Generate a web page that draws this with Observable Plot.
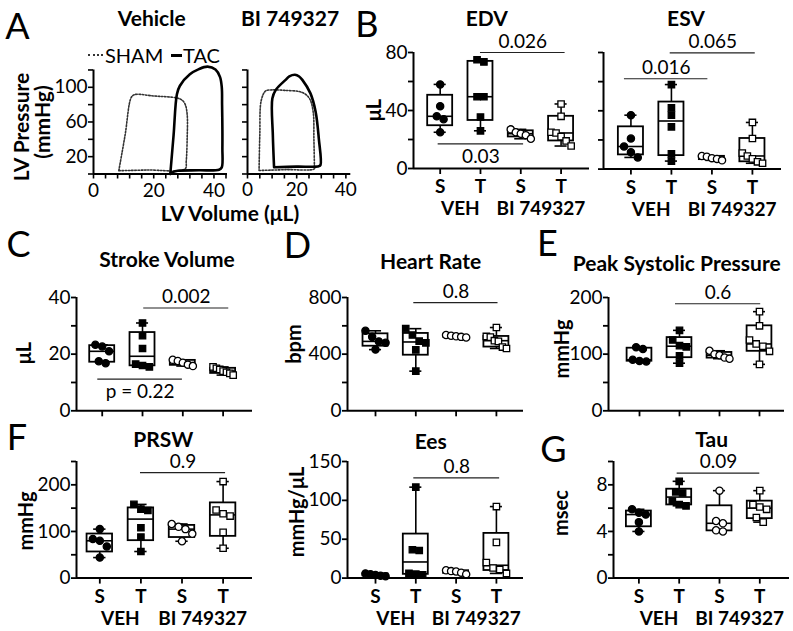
<!DOCTYPE html>
<html><head><meta charset="utf-8">
<script src="https://cdn.jsdelivr.net/npm/d3@7"></script>
<script src="https://cdn.jsdelivr.net/npm/@observablehq/plot@0.6"></script>
<style>
body{margin:0;background:#fff;}
#chart{position:relative;width:793px;height:631px;background:#fff;overflow:hidden;font-family:Lato,"Noto Sans",sans-serif;color:#000;}
.t{position:absolute;transform:translate(-50%,-50%);white-space:nowrap;line-height:1;}
.b{font-weight:700;font-size:21px;}
.ti{font-weight:700;font-size:21px;}
.yl{font-weight:700;font-size:20px;}
.r{font-weight:400;font-size:20px;}
.letter{font-weight:400;font-size:36px;}
svg.p{position:absolute;overflow:visible;max-width:none;}
</style></head><body><div id="chart"></div>
<script>
// ---------- data ----------
const groups = ["S", "T", "S", "T"];
const treatments = ["VEH", "BI 749327"];

// PV loops (volume µL, pressure mmHg)
const vehShamVol  = [8.4, 17.9, 30.4, 30.8, 31.1, 31.1, 30.4, 29.3, 27.7, 20, 13.6, 12.5, 10.5, 8.4];
const vehShamPres = [3.8, 4.6, 5.8, 15, 40, 69, 80.7, 85.5, 87.7, 90, 91.5, 88, 45, 3.8];
const vehTacVol   = [25.5, 26.5, 28, 35, 41.7, 42.6, 42.8, 42.8, 42.7, 42.6, 42, 40.5, 37.9, 35, 32, 28.7, 27.7, 26.6, 25.5];
const vehTacPres  = [0, 2.5, 3.8, 4.3, 5, 7.6, 30, 53.7, 80, 100, 112, 120.5, 123.8, 121, 115, 101.8, 92, 45, 0];
const biShamVol   = [4.7, 15.5, 27.2, 27.2, 27, 26.7, 25.2, 22.3, 15, 10.1, 7.4, 5.6, 5, 4.7];
const biShamPres  = [4, 5, 6, 9.7, 40, 71.7, 87, 94, 96.5, 97, 95.8, 85, 45, 4];
const biTacVol    = [10.8, 20, 29, 29.7, 29, 27.7, 25.6, 22.3, 21, 19.3, 17, 15.5, 11.5, 10.1, 10.3, 10.8];
const biTacPres   = [7.8, 8.5, 9, 10.5, 40.7, 71.7, 93, 108.6, 112.5, 114.4, 112.5, 108.6, 97, 87, 45, 7.8];

// box plot groups: [SHAM VEH, TAC VEH, SHAM BI, TAC BI]
const edv = [[58, 43, 36, 34, 25], [75, 73.5, 49.5, 49.5, 35.5, 26], [27, 25, 24, 23, 20.5], [44.5, 36, 25, 24.5, 22, 19, 15.5]];
const esv = [[37, 21, 15.5, 11.5, 8], [58, 42, 37, 29, 10.5, 5.5], [9, 8.5, 7.5, 7, 6], [32, 21, 11, 9, 7, 5, 4]];
const strokeVolume = [[23.3, 22.7, 21, 17.5, 16.8], [31, 26.5, 22, 16.5, 16, 15.5], [18, 17.6, 17, 16.3, 15.8], [15.5, 15, 14.6, 14, 13.6, 13.2, 12.6]];
const heartRate = [[565, 522, 490, 480, 432], [580, 535, 492, 480, 430, 280], [535, 530, 526, 522, 518], [588, 525, 520, 495, 490, 450, 440]];
const peakSystolic = [[112, 109, 90, 88, 87], [142, 125, 115, 113, 97, 84], [106, 100, 98, 94, 92], [175, 150, 125, 118, 114, 105, 82]];
const prsw = [[105, 84, 80, 68, 44], [158, 148, 145, 108, 88, 57], [116, 110, 105, 95, 79], [207, 146, 138, 133, 98, 64]];
const ees = [[6, 5, 4, 3, 2.5], [117, 36.5, 35.5, 6, 5, 4.3], [10, 9, 8.5, 7, 5], [92, 46, 20, 13, 11, 6]];
const tau = [[5.9, 5.6, 5.45, 4.8, 4.0], [8.3, 7.4, 7.3, 6.6, 6.3, 6.2], [7.5, 4.9, 4.7, 4.1, 4.0], [7.5, 6.3, 6.1, 5.9, 5.2, 4.8]];

// significance annotations
const edvSig = [{x1: 2, x2: 4.1, y: 80, label: "0.026", pos: "above"}, {x1: 0.95, x2: 3.07, y: 17, label: "0.03", pos: "below"}];
const esvSig = [{x1: 0.84, x2: 2.9, y: 62, label: "0.016", pos: "above"}, {x1: 1.97, x2: 4.07, y: 79.7, label: "0.065", pos: "above"}];
const svSig = [{x1: 2.03, x2: 4.14, y: 36.3, label: "0.002", pos: "above"}, {x1: 0.89, x2: 2.99, y: 11.2, label: "p = 0.22", pos: "below"}];
const hrSig = [{x1: 1.95, x2: 4.04, y: 764, label: "0.8", pos: "above"}];
const pspSig = [{x1: 1.9, x2: 4.03, y: 189, label: "0.6", pos: "above"}];
const prswSig = [{x1: 1.99, x2: 4.06, y: 226, label: "0.9", pos: "above"}];
const eesSig = [{x1: 1.95, x2: 4.08, y: 129, label: "0.8", pos: "above"}];
const tauSig = [{x1: 1.95, x2: 4.0, y: 9.0, label: "0.09", pos: "above"}];

// ---------- helpers ----------
const chart = document.getElementById("chart");
const FONT = "Lato, 'Noto Sans', sans-serif";

function addText(txt, x, y, cls, rot) {
  const d = document.createElement("div");
  d.className = "t " + cls;
  d.textContent = txt;
  d.style.left = x + "px";
  d.style.top = y + "px";
  if (rot) d.style.transform = "translate(-50%,-50%) rotate(-90deg)";
  chart.appendChild(d);
  return d;
}

function place(svg, left, top) {
  svg.classList.add("p");
  svg.style.left = left + "px";
  svg.style.top = top + "px";
  chart.appendChild(svg);
}

function q6(s, p) {
  const n = s.length, h = (n + 1) * p;
  if (h <= 1) return s[0];
  if (h >= n) return s[n - 1];
  const lo = Math.floor(h);
  return s[lo - 1] + (h - lo) * (s[lo] - s[lo - 1]);
}

const baseStyle = {fontFamily: FONT, fontSize: "19px", background: "transparent", overflow: "visible", color: "black"};

function boxPanel(cfg) {
  const {vals, left, top, w, h, x0, sp, ymax, step, labels, showX, sig} = cfg;
  const stats = vals.map((arr, i) => {
    const s = [...arr].sort((a, b) => a - b);
    return {x: i + 1, min: s[0], max: s[s.length - 1], q1: q6(s, 0.25), med: q6(s, 0.5), q3: q6(s, 0.75)};
  });
  const k = h / ymax;
  const pts = [];
  vals.forEach((arr, i) => {
    const s = [...arr].sort((a, b) => b - a);
    const clusters = [];
    let cur = [s[0]];
    for (let j = 1; j < s.length; j++) {
      if ((cur[cur.length - 1] - s[j]) * k < 6.5) cur.push(s[j]);
      else { clusters.push(cur); cur = [s[j]]; }
    }
    clusters.push(cur);
    clusters.forEach(c => {
      const m = c.length;
      const spread = Math.min(0.5, 0.17 * (m - 1));
      c.forEach((v, j) => {
        const off = m === 1 ? 0 : -spread / 2 + spread * j / (m - 1);
        pts.push({x: i + 1 + off, v, g: i});
      });
    });
  });
  const bw = 0.31, cw = 0.15;
  const marks = [
    Plot.ruleX(stats, {x: "x", y1: "min", y2: "q1", strokeWidth: 1.6}),
    Plot.ruleX(stats, {x: "x", y1: "q3", y2: "max", strokeWidth: 1.6}),
    Plot.ruleY(stats, {y: "min", x1: d => d.x - cw, x2: d => d.x + cw, strokeWidth: 1.6}),
    Plot.ruleY(stats, {y: "max", x1: d => d.x - cw, x2: d => d.x + cw, strokeWidth: 1.6}),
    Plot.rect(stats, {x1: d => d.x - bw, x2: d => d.x + bw, y1: "q1", y2: "q3", fill: "white", stroke: "black", strokeWidth: 1.8}),
    Plot.ruleY(stats, {y: "med", x1: d => d.x - bw, x2: d => d.x + bw, strokeWidth: 1.6}),
    Plot.dot(pts, {x: "x", y: "v", r: 3.6, symbol: d => (d.g % 2 === 0 ? "circle" : "square"),
      fill: d => (d.g < 2 ? "black" : "white"), stroke: "black", strokeWidth: 1.3}),
    Plot.ruleY([0], {strokeWidth: 2}),
    Plot.ruleX([x0], {y1: 0, y2: ymax, strokeWidth: 2}),
    Plot.axisY({ticks: d3.range(0, ymax + step / 2, step), tickFormat: d => (labels.includes(d) ? String(d) : ""),
      tickSize: 5, tickPadding: 1, fontSize: 19, strokeWidth: 1.8, label: null}),
    Plot.axisX({ticks: [1, 2, 3, 4], tickFormat: () => "", tickSize: 6, strokeWidth: 1.8, label: null}),
    Plot.ruleY(sig, {y: "y", x1: "x1", x2: "x2", strokeWidth: 1.2, stroke: "#222"}),
    Plot.text(sig.filter(s => s.pos === "above"), {x: s => (s.x1 + s.x2) / 2, y: "y", text: "label", dy: -11, fontSize: 19}),
    Plot.text(sig.filter(s => s.pos === "below"), {x: s => (s.x1 + s.x2) / 2, y: "y", text: "label", dy: 13, fontSize: 19})
  ];
  if (showX) {
    marks.push(Plot.text(groups, {x: (d, i) => i + 1, y: () => 0, dy: 18.5, fontSize: 19, fontWeight: 700}));
    marks.push(Plot.text(treatments, {x: (d, i) => 2 * i + 1.5, y: () => 0, dy: 40.5, fontSize: 19, fontWeight: 700}));
  }
  const svg = Plot.plot({
    width: w, height: h, marginTop: 0, marginRight: 0, marginBottom: 0, marginLeft: 0,
    x: {type: "linear", domain: [x0, x0 + w / sp]},
    y: {type: "linear", domain: [0, ymax]},
    style: baseStyle,
    marks
  });
  place(svg, left, top);
}

function loopPanel(cfg) {
  const {left, top, w, h, xmax, xstep, ylabels, sham, tac} = cfg;
  const shamPts = sham[0].map((v, i) => ({v, p: sham[1][i]}));
  const tacPts = tac[0].map((v, i) => ({v, p: tac[1][i]}));
  const svg = Plot.plot({
    width: w, height: h, marginTop: 0, marginRight: 0, marginBottom: 0, marginLeft: 0,
    x: {type: "linear", domain: [0, xmax]},
    y: {type: "linear", domain: [0, 124]},
    style: baseStyle,
    marks: [
      Plot.line(shamPts, {x: "v", y: "p", stroke: "#333", strokeWidth: 1.6, strokeDasharray: "1.6,1.6", curve: "catmull-rom"}),
      Plot.line(tacPts, {x: "v", y: "p", stroke: "black", strokeWidth: 2.6, curve: "catmull-rom"}),
      Plot.ruleY([0], {strokeWidth: 2}),
      Plot.ruleX([0], {y1: 0, y2: 120, strokeWidth: 2}),
      Plot.axisY({ticks: d3.range(0, 121, 20), tickFormat: d => (ylabels && [20, 60, 100].includes(d) ? String(d) : ""),
        tickSize: 5, tickPadding: 1, fontSize: 19, strokeWidth: 1.6, label: null}),
      Plot.axisX({ticks: d3.range(0, xmax + 0.01, xstep), tickFormat: d => ([0, 20, 40].includes(d) ? String(d) : ""),
        tickSize: 5, tickPadding: 4, fontSize: 19, strokeWidth: 1.6, label: null})
    ]
  });
  place(svg, left, top);
}

// ---------- panel A ----------
loopPanel({left: 93, top: 65.5, w: 134, h: 107.5, xmax: 44.5, xstep: 4, ylabels: true,
  sham: [vehShamVol, vehShamPres], tac: [vehTacVol, vehTacPres]});
loopPanel({left: 246.7, top: 65.5, w: 103.3, h: 107.5, xmax: 42, xstep: 5, ylabels: false,
  sham: [biShamVol, biShamPres], tac: [biTacVol, biTacPres]});

// legend
(function () {
  const d1 = document.createElement("div");
  d1.style.cssText = "position:absolute;left:88px;top:54px;width:15px;border-top:2px dotted #333;";
  chart.appendChild(d1);
  const d2 = document.createElement("div");
  d2.style.cssText = "position:absolute;left:171px;top:54px;width:11px;height:3px;background:#000;";
  chart.appendChild(d2);
  const s = addText("SHAM", 105, 55, "r"); s.style.transform = "translate(0,-50%)";
  const t = addText("TAC", 183, 55, "r"); t.style.transform = "translate(0,-50%)";
})();

// ---------- box panels ----------
boxPanel({vals: edv, left: 413.3, top: 51.7, w: 176, h: 116, x0: 0.338, sp: 40.3, ymax: 80, step: 20, labels: [0, 40, 80], showX: true, sig: edvSig});
boxPanel({vals: esv, left: 603.3, top: 51.7, w: 178, h: 116.6, x0: 0.323, sp: 40.5, ymax: 80, step: 20, labels: [], showX: true, sig: esvSig});
boxPanel({vals: strokeVolume, left: 76, top: 296.7, w: 176, h: 113.3, x0: 0.362, sp: 40.3, ymax: 40, step: 10, labels: [0, 20, 40], showX: false, sig: svSig});
boxPanel({vals: heartRate, left: 347, top: 296.7, w: 176, h: 113.3, x0: 0.305, sp: 40.3, ymax: 800, step: 200, labels: [0, 400, 800], showX: false, sig: hrSig});
boxPanel({vals: peakSystolic, left: 608.3, top: 296.7, w: 176, h: 113.3, x0: 0.225, sp: 40, ymax: 200, step: 50, labels: [0, 100, 200], showX: false, sig: pspSig});
boxPanel({vals: prsw, left: 76, top: 460.7, w: 176, h: 116.6, x0: 0.433, sp: 41.1, ymax: 250, step: 50, labels: [0, 100, 200], showX: true, sig: prswSig});
boxPanel({vals: ees, left: 347, top: 460.7, w: 176, h: 116.6, x0: 0.305, sp: 40.3, ymax: 150, step: 50, labels: [0, 50, 100, 150], showX: true, sig: eesSig});
boxPanel({vals: tau, left: 613, top: 460.7, w: 176, h: 116.6, x0: 0.37, sp: 40.3, ymax: 10, step: 2, labels: [0, 4, 8], showX: true, sig: tauSig});

// ---------- texts ----------
addText("A", 17.5, 25, "letter");
addText("B", 367, 23, "letter");
addText("C", 18.5, 243, "letter");
addText("D", 297.5, 244, "letter");
addText("E", 547.5, 242, "letter");
addText("F", 17, 435.5, "letter");
addText("G", 553.5, 447.5, "letter");

addText("Vehicle", 151.7, 16.7, "b");
addText("BI 749327", 290, 16.7, "b");
addText("EDV", 486.7, 16.7, "ti");
addText("ESV", 686, 16.7, "ti");
addText("Stroke Volume", 167, 258.3, "ti");
addText("Heart Rate", 430.7, 260, "ti");
addText("Peak Systolic Pressure", 676.7, 261.7, "ti");
addText("PRSW", 163.3, 437.5, "ti");
addText("Ees", 430.7, 440, "ti");
addText("Tau", 711.7, 438, "ti");

addText("LV Pressure", 20, 127, "b", true);
addText("(mmHg)", 41, 122, "b", true);
addText("LV Volume (μL)", 230, 212, "b");
addText("μL", 373.3, 110, "yl", true);
addText("μL", 23.3, 353.3, "yl", true);
addText("bpm", 293.3, 344, "yl", true);
addText("mmHg", 561, 348.5, "yl", true);
addText("mmHg", 25, 521, "yl", true);
addText("mmHg/μL", 296, 512, "yl", true);
addText("msec", 560, 513, "yl", true);
</script></body></html>
